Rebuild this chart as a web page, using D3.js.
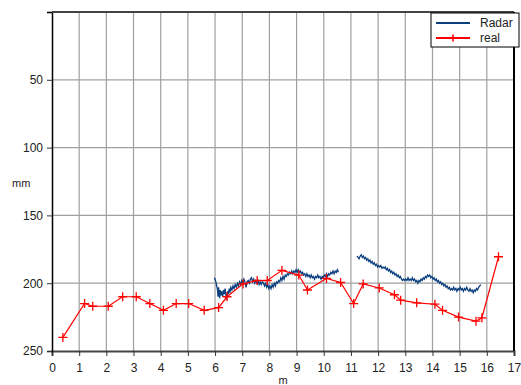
<!DOCTYPE html>
<html><head><meta charset="utf-8">
<script src="https://cdn.jsdelivr.net/npm/d3@7"></script>
<style>body{margin:0;background:#fff}svg{display:block;font-family:"Liberation Sans",Arial,sans-serif}</style>
</head><body><svg id="c" width="521" height="385"></svg>
<script>
const xTicks = d3.range(0, 18);
const yTicks = [50, 100, 150, 200, 250];
const realX = [0.4,1.2,1.5,2.07,2.6,3.1,3.6,4.1,4.57,5.03,5.6,6.13,6.44,7.03,7.55,7.92,8.46,9.08,9.4,10.1,10.62,11.1,11.45,12.04,12.6,12.83,13.42,14.09,14.37,14.96,15.6,15.82,16.43];
const realY = [240,215,217,217,210,210,215,220,215,215,220,218,210,200.5,198,198,190.5,194,205,196.5,199.5,215,200.5,203.5,208.5,212.5,214.5,215.5,220,225,228,225.5,180.5];
const radar1X = [5.97,6.00,6.03,6.06,6.09,6.11,6.13,6.15,6.17,6.19,6.22,6.25,6.28,6.31,6.34,6.37,6.40,6.43,6.46,6.49,6.52,6.55,6.58,6.62,6.66,6.70,6.74,6.78,6.82,6.86,6.90,6.94,6.98,7.02,7.06,7.10,7.14,7.18,7.22,7.26,7.30,7.34,7.38,7.42,7.46,7.50,7.54,7.58,7.62,7.66,7.70,7.74,7.78,7.82,7.86,7.90,7.94,7.98,8.02,8.06,8.10,8.14,8.18,8.22,8.26,8.30,8.34,8.38,8.42,8.46,8.50,8.54,8.58,8.62,8.66,8.70,8.74,8.78,8.82,8.86,8.90,8.94,8.98,9.02,9.06,9.10,9.14,9.18,9.22,9.26,9.30,9.34,9.38,9.42,9.46,9.50,9.54,9.58,9.62,9.66,9.70,9.74,9.78,9.82,9.86,9.90,9.94,9.98,10.02,10.06,10.10,10.14,10.18,10.22,10.26,10.30,10.34,10.38,10.42,10.46,10.50,10.54];
const radar1Y = [196,197,199,202,205,210,203,208,211,205,209,206,210,205,208,204,209,212,206,208,204,207,203,205,202,204,201,203,200,202,199,201,198,200,197,199,203,199,198,200,197,196,199,197,200,198,200,198,201,199,201,199,200,202,200,203,201,204,202,204,201,203,200,202,199,200,198,199,196,198,195,197,194,195,193,194,192,193,191,193,191,192,190,192,190,192,191,193,192,194,193,195,193,195,194,196,194,196,195,197,195,196,194,196,195,197,195,196,194,195,193,195,193,194,192,193,191,193,191,192,190,192];
const radar2X = [11.22,11.26,11.30,11.34,11.38,11.42,11.46,11.50,11.54,11.58,11.62,11.66,11.70,11.74,11.78,11.82,11.86,11.90,11.94,11.98,12.02,12.06,12.10,12.14,12.18,12.22,12.26,12.30,12.34,12.38,12.42,12.46,12.50,12.54,12.58,12.62,12.66,12.70,12.74,12.78,12.82,12.86,12.90,12.94,12.98,13.02,13.06,13.10,13.14,13.18,13.22,13.26,13.30,13.34,13.38,13.42,13.46,13.50,13.54,13.58,13.62,13.66,13.70,13.74,13.78,13.82,13.86,13.90,13.94,13.98,14.02,14.06,14.10,14.14,14.18,14.22,14.26,14.30,14.34,14.38,14.42,14.46,14.50,14.54,14.58,14.62,14.66,14.70,14.74,14.78,14.82,14.86,14.90,14.94,14.98,15.02,15.06,15.10,15.14,15.18,15.22,15.26,15.30,15.34,15.38,15.42,15.46,15.50,15.54,15.58,15.62,15.66,15.70,15.74,15.78];
const radar2Y = [180,181,182,180,179,181,180,182,181,183,182,184,183,185,184,186,185,187,186,188,187,188,187,189,188,189,188,190,189,191,190,192,191,193,192,194,193,195,194,196,195,197,198,197,198,197,198,196,198,197,198,196,198,197,199,198,200,198,199,197,198,196,197,195,196,194,195,194,196,195,197,196,198,197,199,198,200,199,201,200,202,201,203,202,204,203,205,204,205,203,205,204,206,204,205,203,205,204,206,204,205,203,205,206,204,206,205,207,205,206,204,205,203,202,201];

const svg = d3.select("#c");
const L = 52, R = 514, T = 12, B = 351;
const x = d3.scaleLinear().domain([0, 17]).range([L, R]);
const y = d3.scaleLinear().domain([0, 250]).range([T, B]);

// grid
svg.append("g").selectAll("line").data(xTicks.filter(d => d > 0 && d < 17)).join("line")
  .attr("x1", d => x(d)).attr("x2", d => x(d)).attr("y1", T).attr("y2", B)
  .attr("stroke", "#a0a0a0").attr("stroke-width", 1.2);
svg.append("g").selectAll("line").data(yTicks.filter(d => d < 250)).join("line")
  .attr("y1", d => y(d)).attr("y2", d => y(d)).attr("x1", L).attr("x2", R)
  .attr("stroke", "#a0a0a0").attr("stroke-width", 1.2);

// axes
const xAxis = svg.append("g").attr("transform", `translate(0,${B})`)
  .call(d3.axisBottom(x).tickValues(xTicks).tickFormat(d3.format("d")).tickSize(5).tickPadding(7));
const yAxis = svg.append("g").attr("transform", `translate(${L},0)`)
  .call(d3.axisLeft(y).tickValues(yTicks).tickSize(5).tickPadding(4));
[xAxis, yAxis].forEach(a => {
  a.selectAll("text").attr("font-size", 12).attr("fill", "#222").attr("font-family", "Liberation Sans, Arial, sans-serif");
  a.selectAll(".tick line").attr("stroke", "#333");
});
xAxis.select(".domain").attr("stroke", "#444").attr("stroke-width", 2);
yAxis.select(".domain").attr("stroke", "#000").attr("stroke-width", 1.5);
// frame top / right
svg.append("line").attr("x1", L).attr("x2", R).attr("y1", T).attr("y2", T).attr("stroke", "#444").attr("stroke-width", 2);
svg.append("line").attr("x1", R).attr("x2", R).attr("y1", T).attr("y2", B).attr("stroke", "#000").attr("stroke-width", 2);

svg.append("text").attr("x", 12).attr("y", 187).attr("font-size", 11).attr("fill", "#222").text("mm");
svg.append("text").attr("x", x(8.5)).attr("y", 384).attr("text-anchor", "middle").attr("font-size", 11).attr("fill", "#222").text("m");

const line = d3.line().x(d => x(d[0])).y(d => y(d[1]));
const blue = "#0b3f7e";
svg.append("path").datum(radar1X.map((v, i) => [v, radar1Y[i]])).attr("d", line)
  .attr("fill", "none").attr("stroke", blue).attr("stroke-width", 1.3);
svg.append("path").datum(radar2X.map((v, i) => [v, radar2Y[i]])).attr("d", line)
  .attr("fill", "none").attr("stroke", blue).attr("stroke-width", 1.3);
const realPts = realX.map((v, i) => [v, realY[i]]);
svg.append("path").datum(realPts).attr("d", line)
  .attr("fill", "none").attr("stroke", "#ff0000").attr("stroke-width", 1.2);
svg.append("g").selectAll("path").data(realPts).join("path")
  .attr("d", d => `M${x(d[0]) - 4.5},${y(d[1])}h9M${x(d[0])},${y(d[1]) - 4.5}v9`)
  .attr("stroke", "#ff0000").attr("stroke-width", 1.3).attr("fill", "none");

// legend
const lg = svg.append("g");
lg.append("rect").attr("x", 431).attr("y", 13).attr("width", 88).attr("height", 34)
  .attr("fill", "#fff").attr("stroke", "#000").attr("stroke-width", 1);
lg.append("line").attr("x1", 436).attr("x2", 470).attr("y1", 23).attr("y2", 23).attr("stroke", blue).attr("stroke-width", 2);
lg.append("text").attr("x", 480).attr("y", 27).attr("font-size", 12).attr("fill", "#222").text("Radar");
lg.append("line").attr("x1", 436).attr("x2", 470).attr("y1", 38).attr("y2", 38).attr("stroke", "#ff0000").attr("stroke-width", 2);
lg.append("path").attr("d", "M453,34.5v7").attr("stroke", "#ff0000").attr("stroke-width", 1.6);
lg.append("text").attr("x", 480).attr("y", 42).attr("font-size", 12).attr("fill", "#222").text("real");
</script></body></html>
